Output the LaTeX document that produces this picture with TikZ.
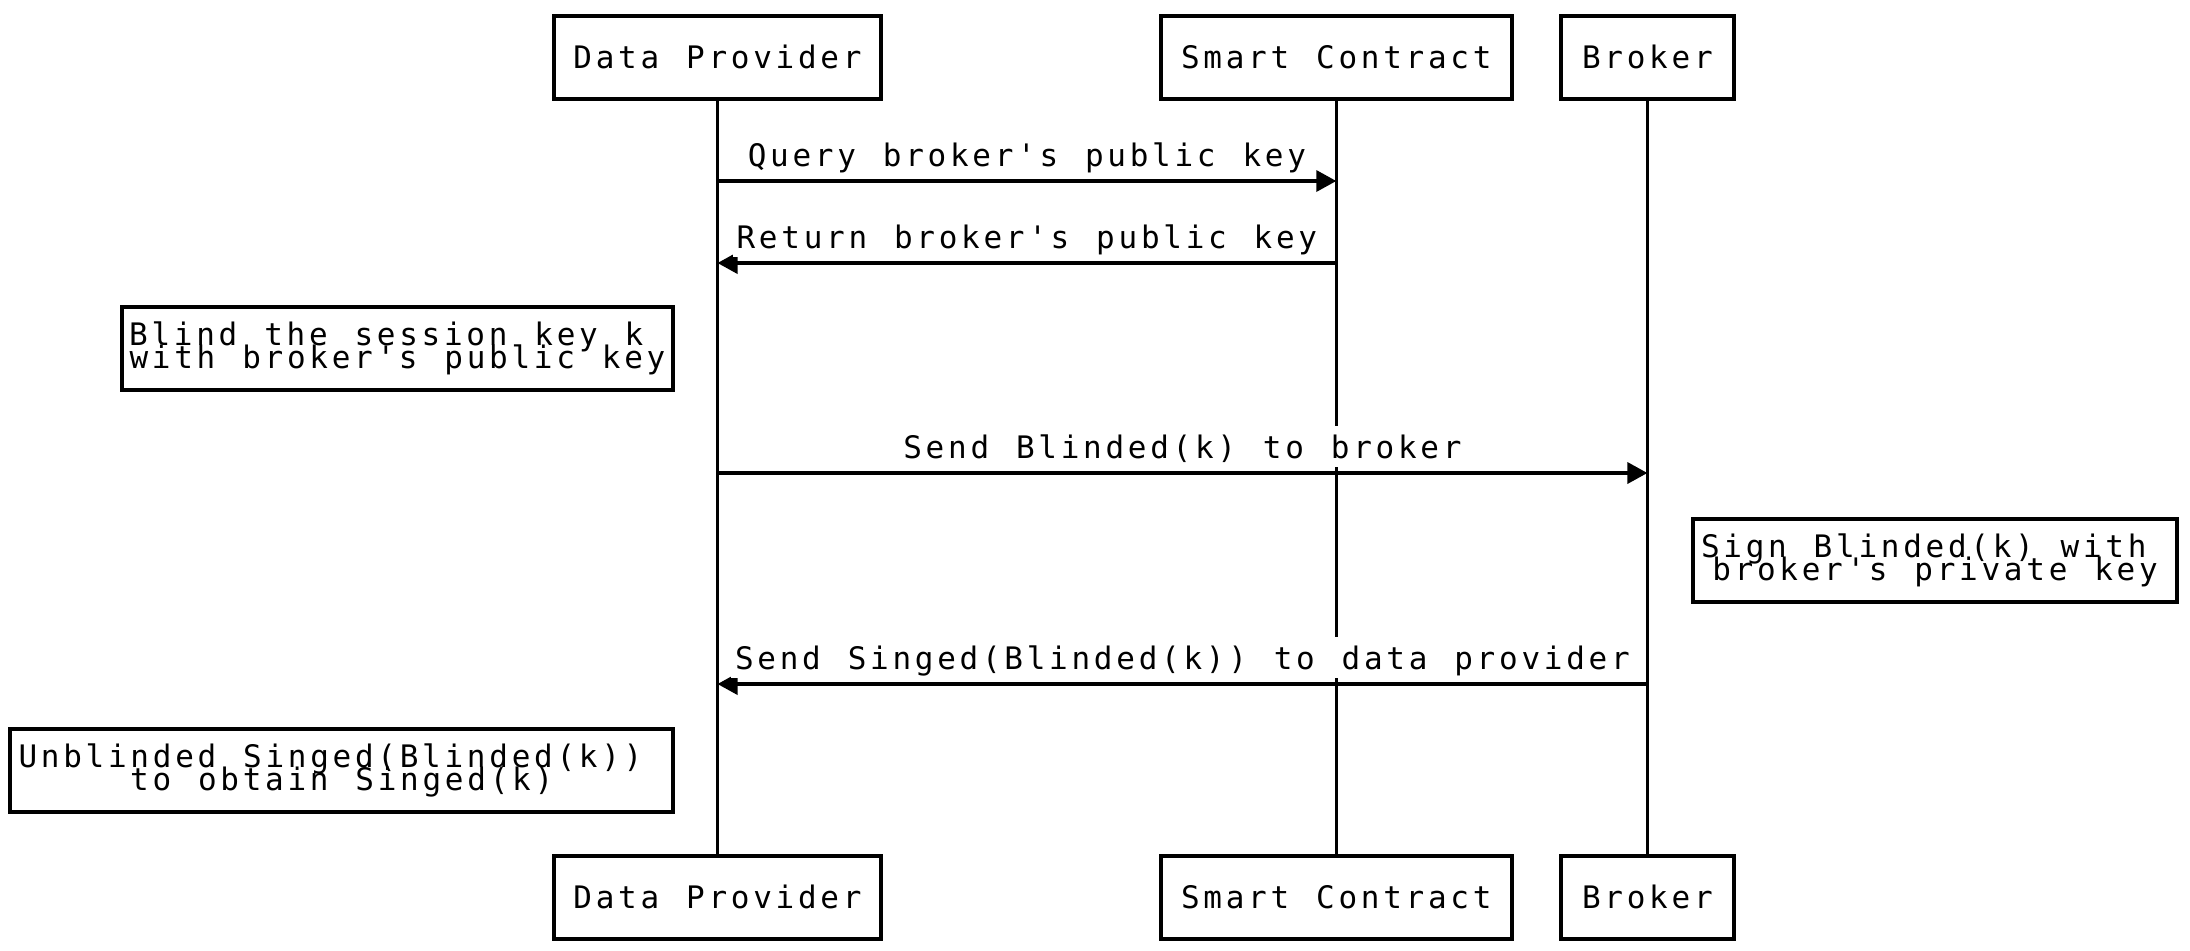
\documentclass[tikz,border=0pt]{standalone}
\usepackage{fontspec}
\usetikzlibrary{arrows.meta}
\newfontfamily\seqfont{DejaVu Sans Mono}[LetterSpace=12,WordSpace={1.2,0,0},Ligatures=TeXOff]
\begin{document}
\lineskiplimit=-20pt\relax
\begin{tikzpicture}[x=0.5pt,y=-0.5pt,
  every node/.style={font=\seqfont\fontsize{15.5}{11.5}\selectfont},
  actor/.style={draw, line width=2pt, minimum height=41.5pt, inner sep=0pt},
  life/.style={line width=1.75pt},
  msg/.style={line width=1.75pt, -{Triangle[length=10pt,width=10.5pt]}},
  lbl/.style={fill=white, anchor=base, yshift=7.5pt, inner xsep=2pt, inner ysep=2pt, text height=14pt, text depth=2.5pt},
  note/.style={draw, line width=2pt, minimum height=41.5pt, inner sep=0pt, align=center}
]
\fill[white] (0,0) rectangle (2190,950);
\useasboundingbox (0,0) rectangle (2190,950);

% participants
\node[actor, minimum width=163.5pt] (dpT) at (717.5,57) {Data Provider};
\node[actor, minimum width=175.5pt] (scT) at (1336.3,57) {Smart Contract};
\node[actor, minimum width=86.5pt] (brT) at (1647.4,57) {Broker};
\node[actor, minimum width=163.5pt] (dpB) at (717.5,897) {Data Provider};
\node[actor, minimum width=175.5pt] (scB) at (1336.3,897) {Smart Contract};
\node[actor, minimum width=86.5pt] (brB) at (1647.4,897) {Broker};

% lifelines
\draw[life] (dpT) -- (dpB);
\draw[life] (scT) -- (scB);
\draw[life] (brT) -- (brB);

% rows
\coordinate (r1) at (0,181);
\coordinate (r2) at (0,263);
\coordinate (r3) at (0,473);
\coordinate (r4) at (0,684);

% messages
\draw[msg] (dpT |- r1) -- node[lbl]{Query broker's public key} (scT |- r1);
\draw[msg] (scT |- r2) -- node[lbl]{Return broker's public key} (dpT |- r2);
\draw[msg] (dpT |- r3) -- node[lbl]{Send Blinded(k) to broker} (brT |- r3);
\draw[msg] (brT |- r4) -- node[lbl]{Send Singed(Blinded(k)) to data provider} (dpT |- r4);

% notes
\node[note, minimum width=275.5pt] (n1) at (397.5,348.5) {Blind the session key k\rule{11.2pt}{0pt}\\with broker's public key};
\node[note, minimum width=242pt] (n2) at (1935,560) {Sign Blinded(k) with\rule{11.2pt}{0pt}\\broker's private key};
\node[note, minimum width=331.3pt] (n3) at (341.7,770) {Unblinded Singed(Blinded(k))\rule{11.2pt}{0pt}\\to obtain Singed(k)};
\end{tikzpicture}
\end{document}
